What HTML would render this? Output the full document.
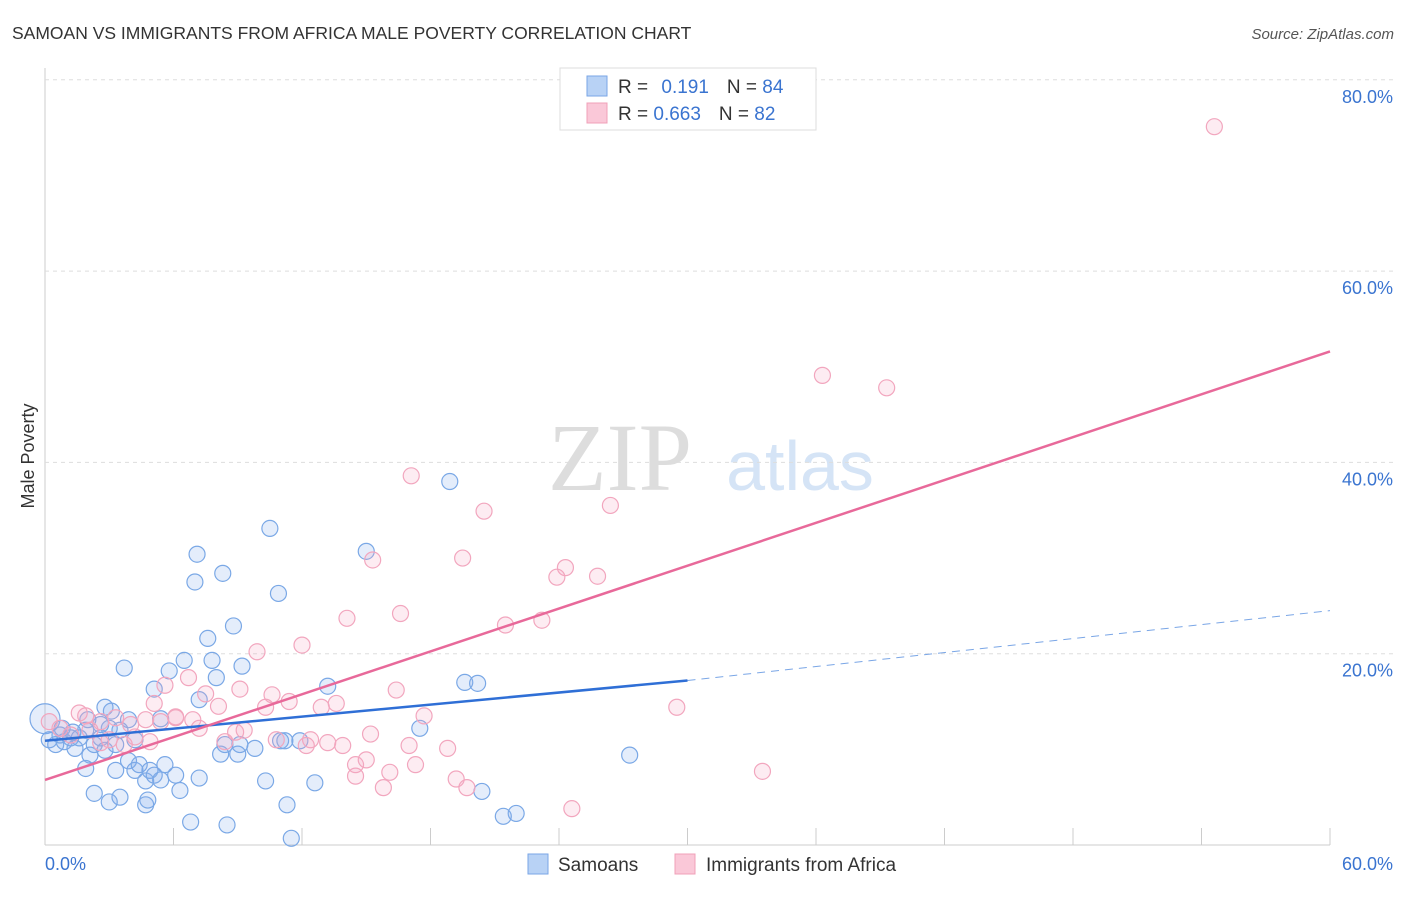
<!DOCTYPE html>
<html><head><meta charset="utf-8"><style>
body{margin:0;background:#fff;font-family:"Liberation Sans",sans-serif;}
</style></head><body>
<svg id="c" width="1406" height="892" xmlns="http://www.w3.org/2000/svg" font-family="Liberation Sans, sans-serif">
<text x="12" y="39" font-size="17.5" fill="#333">SAMOAN VS IMMIGRANTS FROM AFRICA MALE POVERTY CORRELATION CHART</text>
<text x="1394" y="39" font-size="15" fill="#555" font-style="italic" text-anchor="end">Source: ZipAtlas.com</text>
<text x="620" y="490" font-size="96" fill="#ddd" font-family="Liberation Serif, serif" text-anchor="middle">ZIP</text>
<text x="800" y="490" font-size="70" fill="#d5e4f6" text-anchor="middle">atlas</text>
<text transform="translate(34,456) rotate(-90)" font-size="18" fill="#333" text-anchor="middle">Male Poverty</text>
<g id="grid"></g><g id="pts"></g><g id="lines"></g>
<g>
<rect x="560" y="68" width="256" height="62" fill="#fff" stroke="#ddd"/>
<rect x="587" y="76" width="20" height="20" fill="#b8d2f5" stroke="#7aa6e6"/>
<rect x="587" y="103" width="20" height="20" fill="#fac8d8" stroke="#f0a0b8"/>
<text x="618" y="93" font-size="19" fill="#333">R = <tspan fill="#3a74d0" dx="8">0.191</tspan><tspan dx="18" fill="#333">N = </tspan><tspan fill="#3a74d0">84</tspan></text>
<text x="618" y="120" font-size="19" fill="#333">R = <tspan fill="#3a74d0">0.663</tspan><tspan dx="18" fill="#333">N = </tspan><tspan fill="#3a74d0">82</tspan></text>
</g>
<g>
<rect x="528" y="854" width="20" height="20" fill="#b8d2f5" stroke="#7aa6e6"/>
<text x="558" y="871" font-size="19" fill="#333">Samoans</text>
<rect x="675" y="854" width="20" height="20" fill="#fac8d8" stroke="#f0a0b8"/>
<text x="706" y="871" font-size="19" fill="#333">Immigrants from Africa</text>
</g>
</svg>
<script>
const yTicks=[20,40,60,80];
const yTickLabels=["20.0%","40.0%","60.0%","80.0%"];
const blueX=[0,0.2,0.5,0.7,0.9,1.2,1.4,1.6,1.9,2.1,2.3,2.6,2.8,3.0,3.1,3.3,3.5,3.7,3.9,4.2,4.4,4.7,4.9,5.1,5.4,5.6,5.8,6.1,6.3,6.5,6.8,7.0,7.1,7.2,7.6,7.8,8.0,8.2,8.3,8.5,8.8,9.0,9.2,9.8,10.3,10.5,10.9,11.0,11.3,11.5,12.6,13.2,15.0,17.5,18.9,19.6,20.2,20.4,21.4,22.0,27.3,2.3,3.0,3.5,4.7,4.8,1.9,2.6,3.9,3.3,4.2,5.1,2.8,2.0,0.8,1.3,5.4,7.2,8.4,9.1,11.2,11.9];
const blueY=[13.2,11.0,10.5,11.5,10.8,11.2,10.1,11.2,12.0,9.4,10.5,11.2,9.9,12.2,14.0,10.5,12.0,18.5,8.8,7.8,8.4,6.7,7.8,7.3,13.2,8.4,18.2,7.3,5.7,19.3,2.4,27.5,30.4,7.0,21.6,19.3,17.5,9.5,28.4,2.1,22.9,9.5,18.7,10.1,6.7,33.1,26.3,10.9,4.2,0.7,6.5,16.6,30.7,12.2,38.0,17.0,16.9,5.6,3.0,3.3,9.4,5.4,4.5,5.0,4.2,4.7,8.0,12.6,13.1,7.8,11.0,16.3,14.4,13.1,12.2,11.8,6.8,15.2,10.5,10.5,10.9,10.9];
const pinkX=[54.6,36.3,39.3,17.1,20.5,26.4,19.5,15.3,24.3,23.9,25.8,16.6,14.1,21.5,23.2,12.0,9.9,5.6,6.7,9.1,7.5,10.6,11.4,16.4,5.1,6.1,6.9,8.1,10.3,12.9,13.6,15.2,12.4,10.8,12.2,13.2,13.9,14.5,15.0,16.1,17.3,17.0,18.8,17.7,19.2,19.7,15.8,14.5,24.6,29.5,33.5,1.9,2.6,3.3,4.0,4.7,5.4,6.1,3.7,3.0,0.7,1.2,2.1,0.2,8.4,8.9,9.3,7.2,4.2,4.9,2.6,1.6];
const pinkY=[75.1,49.1,47.8,38.6,34.9,35.5,30.0,29.8,29.0,28.0,28.1,24.2,23.7,23.0,23.5,20.9,20.2,16.7,17.5,16.3,15.8,15.7,15.0,16.2,14.8,13.4,13.1,14.5,14.4,14.4,14.8,11.6,11.0,11.0,10.4,10.7,10.4,8.4,8.9,7.6,8.4,10.4,10.1,13.5,6.9,6.0,6.0,7.2,3.8,14.4,7.7,13.5,12.9,13.3,12.6,13.1,12.9,13.3,10.5,11.0,12.2,11.5,12.0,12.9,10.8,11.8,12.0,12.2,11.3,10.8,10.7,13.8];
const blueLine=[[0,10.9],[30,17.2]], blueDash=[[30,17.2],[60,24.5]], pinkLine=[[0,6.8],[60,51.6]];
const NS="http://www.w3.org/2000/svg";
const X=v=>45+v*(1285/60), Y=v=>845-v*9.565;
function mk(t,a,p){const e=document.createElementNS(NS,t);for(const k in a)e.setAttribute(k,a[k]);p.appendChild(e);return e;}
const g=document.getElementById('grid');
const ax=mk('line',{x1:45,y1:68,x2:45,y2:845,stroke:'#ccc'},g);

const bx=mk('line',{x1:45,y1:845,x2:1330,y2:845,stroke:'#ccc'},g);

yTicks.forEach((t,i)=>{
 const l=mk('line',{x1:45,y1:Y(t),x2:1394,y2:Y(t),stroke:'#ddd','stroke-dasharray':'4,4'},g);
 
 const tx=mk('text',{x:1393,y:Y(t)+23,'font-size':18,fill:'#3a74d0','text-anchor':'end'},g);tx.textContent=yTickLabels[i];
 
});
for(let i=1;i<=10;i++){const xx=45+i*128.5;const l=mk('line',{x1:xx,y1:828,x2:xx,y2:845,stroke:'#ccc'},g);
 }
[["0.0%",45,'start'],["60.0%",1393,'end']].forEach(a=>{const t=mk('text',{x:a[1],y:870,'font-size':18,fill:'#3a74d0','text-anchor':a[2]},g);t.textContent=a[0];
 });
const p=document.getElementById('pts');
blueX.forEach((v,i)=>{const c=mk('circle',{cx:X(v),cy:Y(blueY[i]),r:i==0?15:8,fill:'rgba(130,175,235,0.22)',stroke:'#7aa8e6','stroke-width':1.2},p);
 });
pinkX.forEach((v,i)=>{const c=mk('circle',{cx:X(v),cy:Y(pinkY[i]),r:8,fill:'rgba(245,170,195,0.22)',stroke:'#f2a6be','stroke-width':1.2},p);
 });
const L=document.getElementById('lines');
function ln(d,s,dash,n){const e=mk('line',{x1:X(d[0][0]),y1:Y(d[0][1]),x2:X(d[1][0]),y2:Y(d[1][1]),stroke:s,'stroke-width':dash?1:2.5},L);if(dash)e.setAttribute('stroke-dasharray','8,6');
 }
ln(blueLine,'#2f6fd6',false,'samoans-trend-line');
ln(blueDash,'#7aa6e6',true,'samoans-trend-extension');
ln(pinkLine,'#e8699a',false,'africa-trend-line');
</script>
</body></html>
